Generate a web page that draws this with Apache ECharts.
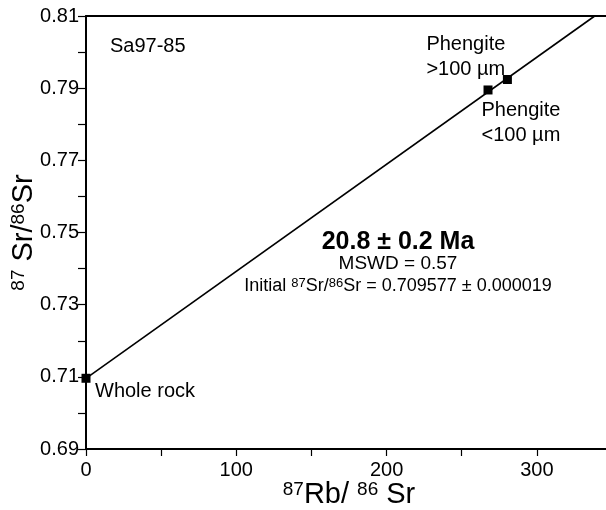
<!DOCTYPE html>
<html>
<head>
<meta charset="utf-8">
<script src="https://cdn.jsdelivr.net/npm/echarts@6/dist/echarts.min.js"></script>
<style>
  html, body { margin: 0; padding: 0; background: #fff; overflow: hidden; }
  #wrap { width: 606px; height: 510px; overflow: hidden; }
  /* plot runs past the right edge to x = 350, like the cropped original */
  #chart { width: 612px; height: 510px; }
</style>
</head>
<body>
<div id="wrap"><div id="chart"></div></div>
<script>
// isochron Sa97-85
var sampleName = 'Sa97-85';
var pointNames = ['Whole rock', 'Phengite\n<100 µm', 'Phengite\n>100 µm'];
var rbSr = [0, 267.5, 280.4];
var srSr = [0.7096, 0.7895, 0.7924];
var isochronX = [0, 338.5];
var isochronY = [0.7096, 0.81];
var xTicks = [0, 100, 200, 300];
var yTicks = [0.69, 0.71, 0.73, 0.75, 0.77, 0.79, 0.81];
var ageText = '20.8 ± 0.2 Ma';
var mswdText = 'MSWD = 0.57';
var initialText = 'Initial {sup|87}Sr/{sup|86}Sr = 0.709577 ± 0.000019';

var FONT = '"Liberation Sans", Arial, Helvetica, sans-serif';
var labelOffsets = [[13.5, 5.5], [-2, 12.5], [-76.5, -43.5]];

var points = rbSr.map(function (x, i) {
    return {
        name: pointNames[i],
        value: [x, srSr[i]],
        label: {
            show: true,
            position: labelOffsets[i],
            formatter: '{b}',
            fontFamily: FONT,
            fontSize: 20,
            lineHeight: 25,
            color: '#000',
            opacity: 1
        }
    };
});

var supStyle = { fontFamily: FONT, fontSize: 19, color: '#000', verticalAlign: 'top' };
var bigStyle = { fontFamily: FONT, fontSize: 29, color: '#000' };

var chart = echarts.init(document.getElementById('chart'), null, { renderer: 'canvas' });
chart.setOption({
    animation: false,
    backgroundColor: '#fff',
    textStyle: { fontFamily: FONT },
    // v6: keep the grid where it is put, labels may sit outside it
    grid: { left: 86, top: 16, right: 0, bottom: 61, containLabel: false, outerBoundsMode: 'none' },
    xAxis: [{
        type: 'value',
        min: xTicks[0],
        max: 350,
        interval: 100,
        name: '{sup|87}{big|Rb/ }{sup|86}{big| Sr}',
        nameLocation: 'middle',
        nameGap: 31,
        nameMoveOverlap: false,
        nameTextStyle: { rich: { sup: supStyle, big: bigStyle } },
        axisLine: { show: true, onZero: false, lineStyle: { color: '#000', width: 2 } },
        axisTick: { show: true, inside: false, length: 7, lineStyle: { color: '#000', width: 1.2 } },
        minorTick: { show: true, splitNumber: 2, length: 7, lineStyle: { color: '#000', width: 1.2 } },
        splitLine: { show: false },
        axisLabel: {
            fontFamily: FONT, fontSize: 20, color: '#000', margin: 11,
            formatter: function (v) { return xTicks.indexOf(v) >= 0 ? String(v) : ''; }
        }
    }, {
        type: 'value',
        position: 'top',
        min: 0,
        max: 350,
        axisLine: { show: true, onZero: false, lineStyle: { color: '#000', width: 2 } },
        axisTick: { show: false },
        axisLabel: { show: false },
        splitLine: { show: false }
    }],
    yAxis: {
        type: 'value',
        min: yTicks[0],
        max: yTicks[yTicks.length - 1],
        interval: 0.02,
        name: '{sup|87}{big| Sr/}{sup|86}{big|Sr}',
        nameLocation: 'middle',
        nameRotate: 90,
        nameGap: 48,
        nameMoveOverlap: false,
        nameTextStyle: { rich: { sup: supStyle, big: bigStyle } },
        axisLine: { show: true, onZero: false, lineStyle: { color: '#000', width: 2 } },
        axisTick: { show: true, inside: false, length: 8, lineStyle: { color: '#000', width: 1.2 } },
        minorTick: { show: true, splitNumber: 2, length: 8, lineStyle: { color: '#000', width: 1.2 } },
        splitLine: { show: false },
        axisLabel: {
            fontFamily: FONT, fontSize: 20, color: '#000', margin: 7,
            formatter: function (v) { return v.toFixed(2); }
        }
    },
    series: [{
        type: 'line',
        data: isochronX.map(function (x, i) { return [x, isochronY[i]]; }),
        symbol: 'none',
        lineStyle: { color: '#000', width: 1.6 },
        silent: true,
        z: 2
    }, {
        type: 'scatter',
        data: points,
        symbol: 'rect',
        symbolSize: 9,
        itemStyle: { color: '#000', opacity: 1 },
        z: 3
    }],
    graphic: [{
        type: 'text',
        left: 110,
        top: 36,
        style: { text: sampleName, font: '20px ' + FONT, fill: '#000' }
    }, {
        type: 'text',
        x: 398, y: 242,
        style: { text: ageText, font: 'bold 25px ' + FONT, fill: '#000', align: 'center', verticalAlign: 'middle' }
    }, {
        type: 'text',
        x: 398, y: 264,
        style: { text: mswdText, font: '19px ' + FONT, fill: '#000', align: 'center', verticalAlign: 'middle' }
    }, {
        type: 'text',
        x: 398, y: 286,
        style: {
            text: initialText, font: '18px ' + FONT, fill: '#000', align: 'center', verticalAlign: 'middle',
            rich: {
                sup: { fontFamily: FONT, fontSize: 13, fill: '#000', verticalAlign: 'top' }
            }
        }
    }]
});
</script>
</body>
</html>
